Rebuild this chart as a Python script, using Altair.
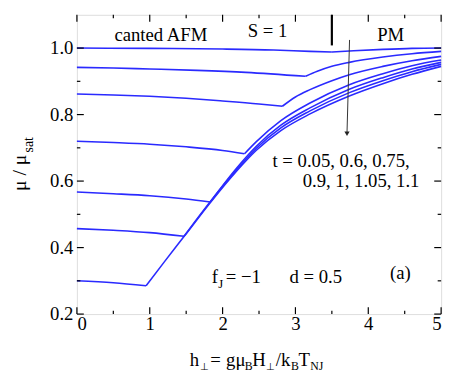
import altair as alt
import pandas as pd

# ---------------- data ----------------
t_values = ["0.05", "0.6", "0.75", "0.9", "1", "1.05", "1.1"]

# canted-AFM branch (h, mu/mu_sat) and paramagnetic branch for each t
afm_h_005 = [0, 1.0, 2.0, 2.7, 3.2, 3.5]
afm_v_005 = [1.0, 0.999, 0.997, 0.994, 0.990, 0.988]
pm_h_005 = [3.5, 3.8, 4.2, 4.6, 5.0]
pm_v_005 = [0.988, 0.992, 0.996, 0.999, 1.0]

afm_h_06 = [0, 0.5, 1.0, 1.65, 2.32, 3.14]
afm_v_06 = [0.942, 0.940, 0.937, 0.933, 0.927, 0.915]
pm_h_06 = [3.14, 3.3, 3.5, 3.74, 4.2, 4.6, 5.0]
pm_v_06 = [0.915, 0.930, 0.945, 0.957, 0.973, 0.983, 0.990]

afm_h_075 = [0, 0.5, 1.0, 1.5, 2.0, 2.5, 2.82]
afm_v_075 = [0.862, 0.859, 0.855, 0.849, 0.841, 0.832, 0.825]
pm_h_075 = [2.82, 3.0, 3.2, 3.5, 3.74, 4.2, 4.6, 5.0]
pm_v_075 = [0.825, 0.853, 0.875, 0.902, 0.920, 0.945, 0.962, 0.975]

afm_h_09 = [0, 0.5, 1.0, 1.5, 2.0, 2.30]
afm_v_09 = [0.720, 0.716, 0.711, 0.703, 0.692, 0.682]
pm_h_09 = [2.30, 2.46, 2.8, 3.2, 3.74, 4.2, 4.6, 5.0]
pm_v_09 = [0.682, 0.718, 0.782, 0.835, 0.890, 0.923, 0.947, 0.964]

afm_h_1 = [0, 0.5, 1.0, 1.5, 1.83]
afm_v_1 = [0.567, 0.562, 0.556, 0.546, 0.537]
pm_h_1 = [1.83, 2.2, 2.46, 2.8, 3.2, 3.74, 4.2, 4.6, 5.0]
pm_v_1 = [0.537, 0.641, 0.704, 0.768, 0.820, 0.876, 0.911, 0.937, 0.957]

afm_h_105 = [0, 0.5, 1.0, 1.47]
afm_v_105 = [0.457, 0.452, 0.445, 0.434]
pm_h_105 = [1.47, 1.83, 2.2, 2.46, 2.8, 3.2, 3.74, 4.2, 4.6, 5.0]
pm_v_105 = [0.434, 0.538, 0.636, 0.698, 0.760, 0.811, 0.866, 0.902, 0.929, 0.951]

afm_h_11 = [0, 0.5, 0.95]
afm_v_11 = [0.300, 0.294, 0.285]
pm_h_11 = [0.95, 1.2, 1.47, 1.83, 2.2, 2.46, 2.8, 3.2, 3.74, 4.2, 4.6, 5.0]
pm_v_11 = [0.285, 0.357, 0.433, 0.535, 0.632, 0.692, 0.752, 0.802, 0.856, 0.893, 0.921, 0.945]

x_major = [0, 1, 2, 3, 4, 5]
x_minor = [0.5, 1.5, 2.5, 3.5, 4.5]
y_major = [0.2, 0.4, 0.6, 0.8, 1.0]
y_minor = [0.3, 0.5, 0.7, 0.9]

phase_boundary_h = 3.5

# ---------------- build table ----------------
series = [
    ("0.05", afm_h_005, afm_v_005, pm_h_005, pm_v_005),
    ("0.6", afm_h_06, afm_v_06, pm_h_06, pm_v_06),
    ("0.75", afm_h_075, afm_v_075, pm_h_075, pm_v_075),
    ("0.9", afm_h_09, afm_v_09, pm_h_09, pm_v_09),
    ("1", afm_h_1, afm_v_1, pm_h_1, pm_v_1),
    ("1.05", afm_h_105, afm_v_105, pm_h_105, pm_v_105),
    ("1.1", afm_h_11, afm_v_11, pm_h_11, pm_v_11),
]
rows = []
for t, ah, av, ph, pv in series:
    for i, (h, v) in enumerate(zip(ah, av)):
        rows.append({"t": t, "seg": t + "-afm", "i": i, "h": h, "v": v})
    for i, (h, v) in enumerate(zip(ph, pv)):
        rows.append({"t": t, "seg": t + "-pm", "i": i, "h": h, "v": v})
df = pd.DataFrame(rows)

W, H = 370, 304
FONT = "'Liberation Serif', 'Times New Roman', Times, serif"
BLUE = "#2a2aff"

xs = alt.Scale(domain=[0, 5], nice=False, zero=False)
ys = alt.Scale(domain=[0.2, 1.1], nice=False, zero=False)

lines = alt.Chart(df).mark_line(color=BLUE, strokeWidth=1.6, interpolate="monotone").encode(
    x=alt.X("h:Q", scale=xs, axis=alt.Axis(values=x_major, ticks=False, domain=False, grid=False,
                                           labelFont=FONT, labelFontSize=19, labelColor="black",
                                           labelPadding=1, title=None, format="d")),
    y=alt.Y("v:Q", scale=ys, axis=alt.Axis(values=y_major, ticks=False, domain=False, grid=False,
                                           labelFont=FONT, labelFontSize=19, labelColor="black",
                                           labelPadding=4, title=None, format=".1f")),
    detail="seg:N",
    order="i:Q",
)

# inward ticks
def yticks(vals, length):
    d = pd.DataFrame({"v": vals})
    left = alt.Chart(d).mark_rule(color="black", strokeWidth=1.2).encode(
        y=alt.Y("v:Q", scale=ys), x=alt.value(0), x2=alt.value(length))
    right = alt.Chart(d).mark_rule(color="black", strokeWidth=1.2).encode(
        y=alt.Y("v:Q", scale=ys), x=alt.value(W), x2=alt.value(W - length))
    return [left, right]

def xticks(vals, length):
    d = pd.DataFrame({"h": vals})
    bot = alt.Chart(d).mark_rule(color="black", strokeWidth=1.2).encode(
        x=alt.X("h:Q", scale=xs), y=alt.value(H), y2=alt.value(H - length))
    top = alt.Chart(d).mark_rule(color="black", strokeWidth=1.2).encode(
        x=alt.X("h:Q", scale=xs), y=alt.value(0), y2=alt.value(length))
    return [bot, top]

ticks = yticks(y_major, 7) + yticks(y_minor, 3.5) + xticks(x_major, 7) + xticks(x_minor, 3.5)

boundary = alt.Chart(pd.DataFrame({"h": [phase_boundary_h]})).mark_rule(color="black", strokeWidth=2.2).encode(
    x=alt.X("h:Q", scale=xs), y=alt.datum(1.1), y2=alt.datum(1.008))

arrow = alt.Chart(pd.DataFrame({"h": [3.743], "v": [1.0245], "h2": [3.708], "v2": [0.745]})).mark_rule(
    color="#333333", strokeWidth=1).encode(
    x=alt.X("h:Q", scale=xs), y=alt.Y("v:Q", scale=ys), x2="h2:Q", y2="v2:Q")
head = alt.Chart(pd.DataFrame({"h": [3.708], "v": [0.742]})).mark_point(
    shape="triangle-down", filled=True, color="#222222", size=28, opacity=1).encode(
    x=alt.X("h:Q", scale=xs), y=alt.Y("v:Q", scale=ys))

def label(txt, h, v, align="left", size=19):
    return alt.Chart(pd.DataFrame({"h": [h], "v": [v]})).mark_text(
        text=txt, font=FONT, fontSize=size, color="black", align=align, baseline="alphabetic").encode(
        x=alt.X("h:Q", scale=xs), y=alt.Y("v:Q", scale=ys))

texts = [
    label("canted AFM", 1.153, 1.0227, "center"),
    label("S = 1", 2.617, 1.032, "center"),
    label("PM", 4.307, 1.02, "center"),
    label("t = 0.05, 0.6, 0.75,", 2.685, 0.643),
    label("0.9, 1, 1.05, 1.1", 3.099, 0.583),
    label("f", 1.851, 0.292),
    label("J", 1.94, 0.277, size=13),
    label("= \u22121", 2.045, 0.292),
    label("d = 0.5", 2.919, 0.292),
    label("(a)", 4.44, 0.307, "center"),
]

# pixel-placed axis titles (with sub/superscripts)
def ptext(txt, x, y, size=19, angle=0, align="left"):
    kw = dict(text=txt, font=FONT, fontSize=size, color="black", align=align, baseline="alphabetic")
    if angle:
        kw["angle"] = angle
    return alt.Chart(pd.DataFrame({"a": [0]})).mark_text(**kw).encode(
        x=alt.value(x), y=alt.value(y))

OX, OY = 78, 12
MB, SB = 368.3 - OY, 373.3 - OY
xtitle = [
    ptext("h", 192.7 - OX, MB),
    ptext("\u22a5", 203 - OX, SB, 10),
    ptext("=", 213.5 - OX, MB),
    ptext("g\u03bc", 229.5 - OX, MB),
    ptext("B", 248.5 - OX, SB, 12),
    ptext("H", 256 - OX, MB),
    ptext("\u22a5", 270.5 - OX, SB, 10),
    ptext("/k", 280 - OX, MB),
    ptext("B", 295.5 - OX, SB, 12),
    ptext("T", 303 - OX, MB),
    ptext("NJ", 315 - OX, SB, 12),
]
ytitle = [
    ptext("\u03bc / \u03bc", 26 - OX, 172.5 - OY, 20, 270, "center"),
    ptext("sat", 33 - OX, 144 - OY, 14, 270, "center"),
]

chart = alt.layer(lines, *ticks, boundary, arrow, head, *texts, *xtitle, *ytitle).properties(
    width=W, height=H,
    padding={"left": 70, "top": 4, "right": 8, "bottom": 62},
    autosize=alt.AutoSizeParams(type="none"),
).configure_view(stroke="#1a1a1a", strokeWidth=1.5).configure(background="white")

chart.save("out.html", embed_options={"renderer": "svg", "actions": False})
